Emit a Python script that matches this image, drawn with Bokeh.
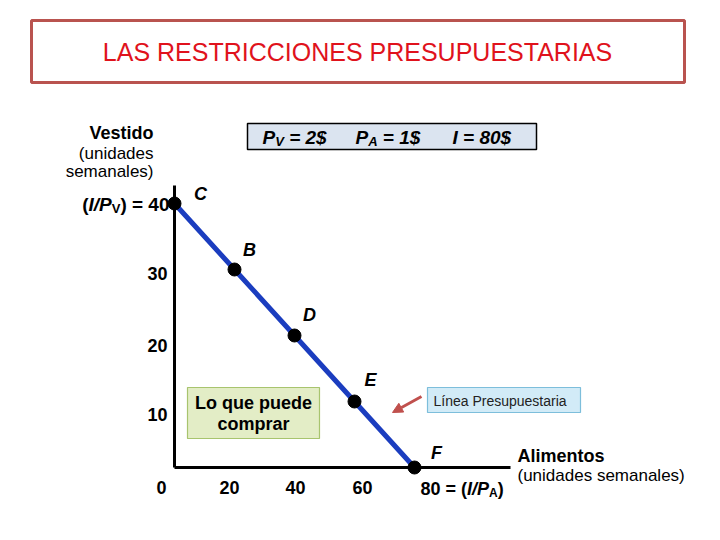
from bokeh.plotting import figure
from bokeh.models import Range1d, Arrow, NormalHead
from bokeh.embed import file_html
from bokeh.resources import INLINE
from bokeh.core.properties import value

# ---------------- data ----------------
food = [0, 20, 40, 60, 80]          # Alimentos (unidades semanales)
clothing = [40, 30, 20, 10, 0]      # Vestido (unidades semanales)
point_names = ["C", "B", "D", "E", "F"]
x_tick_values = [0, 20, 40, 60]
x_tick_labels = ["0", "20", "40", "60"]
y_tick_values = [30, 20, 10]
y_tick_labels = ["30", "20", "10"]
price_v = 2
price_a = 1
income = 80
max_clothing = income // price_v   # 40
max_food = income // price_a       # 80

# ---------------- layout helpers ----------------
W, H = 704, 524
PX0, PXS = 174, 3.0     # page pixel of x=0, px per unit
PY0, PYS = 467, 6.6     # page pixel of y=0, px per unit


def X(px):
    return (px - PX0) / PXS


def Y(py):
    return (PY0 - py) / PYS


FONT = value("Liberation Sans")
BOLD_W = {'(': .333, ')': .333, 'I': .278, '/': .278, 'P': .667, 'V': .667,
          'A': .722, ' ': .278, '=': .584, '$': .556}
for d in "0123456789":
    BOLD_W[d] = .556


def tw(txt, size):
    return sum(BOLD_W.get(c, .6) for c in txt) * size


p = figure(width=W, height=H, output_backend="svg", toolbar_location=None,
           x_range=Range1d(X(0), X(W)), y_range=Range1d(Y(H), Y(0)),
           min_border=0, x_axis_location=None, y_axis_location=None,
           outline_line_color=None, background_fill_color="white")
p.xgrid.visible = False
p.ygrid.visible = False


def runs(x, y, x_off, base_off, parts):
    off = x_off
    for txt, size, italic, sub in parts:
        lead = len(txt) - len(txt.lstrip(" "))
        off += lead * BOLD_W[" "] * size
        txt = txt.lstrip(" ")
        p.text(x=[x], y=[y], text=[txt], x_offset=off,
               y_offset=base_off + (4 if sub else 0),
               text_font=FONT, text_font_size=f"{size}px",
               text_font_style="bold italic" if italic else "bold",
               text_baseline="alphabetic", text_align="left", text_color="black")
        off += tw(txt, size)
    return off


# ---------------- title box ----------------
p.quad(left=[X(31)], right=[X(684)], top=[Y(20)], bottom=[Y(82)],
       fill_color="white", line_color="#b9534f", line_width=3)
p.text(x=[X(357)], y=[Y(51)], text=["LAS RESTRICCIONES PRESUPUESTARIAS"],
       text_align="center", text_baseline="middle",
       text_font=FONT, text_font_size="25px",
       text_color="#e0121c")

# ---------------- price box ----------------
p.quad(left=[X(247)], right=[X(536)], top=[Y(123)], bottom=[Y(149)],
       fill_color="#dbe4f0", line_color="black", line_width=1.5)
by = Y(137)
runs(X(262), by, 0, 0, [("P", 19, True, False), ("V", 13, True, True),
                        (f" = {price_v}$", 19, True, False)])
runs(X(355), by, 0, 0, [("P", 19, True, False), ("A", 13, True, True),
                        (f" = {price_a}$", 19, True, False)])
runs(X(452), by, 0, 0, [(f"I = {income}$", 19, True, False)])

# ---------------- axes ----------------
p.line([0, 0], [0, Y(185)], line_color="black", line_width=3)
p.line([0, X(510)], [0, 0], line_color="black", line_width=3)

# axis names
p.text(x=[X(153)], y=[Y(132)], text=["Vestido"], text_align="right",
       text_baseline="middle", text_font=FONT, text_font_size="18px",
       text_font_style="bold", text_color="black")
p.text(x=[X(153), X(153)], y=[Y(153), Y(171)], text=["(unidades", "semanales)"],
       text_align="right", text_baseline="middle", text_font=FONT,
       text_font_size="17px", text_color="black")
p.text(x=[X(517)], y=[Y(455)], text=["Alimentos"], text_align="left",
       text_baseline="middle", text_font=FONT, text_font_size="18px",
       text_font_style="bold", text_color="black")
p.text(x=[X(517)], y=[Y(475)], text=["(unidades semanales)"], text_align="left",
       text_baseline="middle", text_font=FONT, text_font_size="17px",
       text_color="black")

# tick labels
p.text(x=x_tick_values, y=[0] * len(x_tick_values), text=x_tick_labels,
       x_offset=[-13, -5, 1, 8], y_offset=20, text_align="center",
       text_baseline="middle", text_font=FONT, text_font_size="18px",
       text_font_style="bold", text_color="black")
p.text(x=[0] * len(y_tick_values), y=y_tick_values, text=y_tick_labels,
       x_offset=-7, y_offset=[4, 10, 13], text_align="right",
       text_baseline="middle", text_font=FONT, text_font_size="18px",
       text_font_style="bold", text_color="black")

# (I/PV) = 40
parts_v = [("(", 19, False, False), ("I/P", 19, True, False), ("V", 13, False, True),
           (f") = {max_clothing}", 19, False, False)]
total_v = sum(tw(t, s) for t, s, _, _ in parts_v)
runs(0, max_clothing, -5 - total_v, 1, parts_v)

# 80 = (I/PA)
runs(max_food, 0, 6, 21, [(f"{max_food} = (", 18, False, False), ("I/P", 18, True, False),
                          ("A", 12, False, True), (")", 18, False, False)])

# ---------------- budget line ----------------
p.line(food, clothing, line_color="#1b3dbf", line_width=5)
p.scatter(food, clothing, size=13, fill_color="black", line_color="black")
p.text(x=food, y=clothing, text=point_names,
       x_offset=[26, 15, 15, 16, 22], y_offset=[-10, -20, -21, -22, -15],
       text_align="center", text_baseline="middle", text_font=FONT,
       text_font_size="18px", text_font_style="bold italic", text_color="black")

# ---------------- annotation boxes ----------------
p.quad(left=[X(187)], right=[X(319)], top=[Y(387)], bottom=[Y(438)],
       fill_color="#e3edc6", line_color="#a8c46e", line_width=1.2)
p.text(x=[X(253), X(253)], y=[Y(402), Y(423)], text=["Lo que puede", "comprar"],
       text_align="center", text_baseline="middle", text_font=FONT,
       text_font_size="18px", text_font_style="bold", text_color="black")

p.quad(left=[X(427)], right=[X(580)], top=[Y(387)], bottom=[Y(412)],
       fill_color="#d2ebf7", line_color="#7dbedb", line_width=1.2)
p.text(x=[X(433)], y=[Y(400)], text=["Línea Presupuestaria"], text_align="left",
       text_baseline="middle", text_font=FONT, text_font_size="14px",
       text_color="#222222")

p.add_layout(Arrow(x_start=X(421), y_start=Y(396), x_end=X(392), y_end=Y(412),
                   line_color="#c0504d", line_width=3,
                   end=NormalHead(size=10, fill_color="#c0504d", line_color="#c0504d")))

open("out.html", "w").write(file_html(p, INLINE))
